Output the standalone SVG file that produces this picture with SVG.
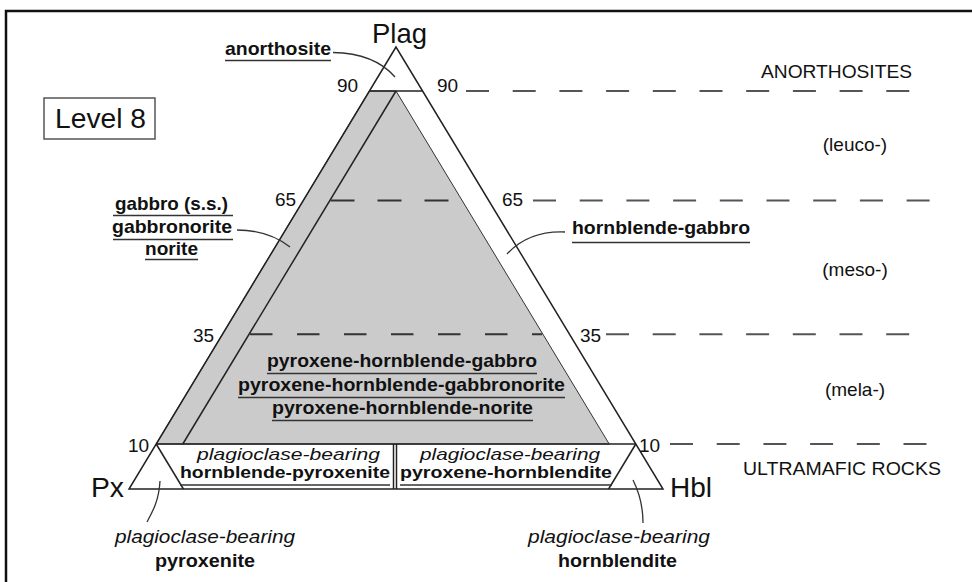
<svg xmlns="http://www.w3.org/2000/svg" width="972" height="582" viewBox="0 0 972 582">
<style>
  text { font-family: "Liberation Sans", Arial, sans-serif; fill: #111; }
  .big { font-size: 28px; }
  .num { font-size: 19px; }
  .lab { font-size: 19px; }
  .b { font-weight: bold; font-size: 19px; }
  .i { font-style: italic; font-size: 19px; }
  .cb { font-weight: bold; font-size: 16.5px; }
  .ci { font-style: italic; font-size: 17px; }
  .edge { fill: none; stroke: #222; stroke-width: 1.5; }
  .ul { stroke: #333; stroke-width: 1.5; fill: none; }
  .dash { stroke: #555; stroke-width: 2; stroke-dasharray: 23 23.7; fill: none; }
  .lead { stroke: #333; stroke-width: 1.3; fill: none; }
</style>
<rect x="0" y="0" width="972" height="582" fill="#fff"/>
<path d="M6,582 V11 H972" fill="none" stroke="#111" stroke-width="2.5"/>

<g id="level8">
  <rect x="44" y="98" width="111" height="41" fill="#fff" stroke="#555" stroke-width="1.5"/>
  <text class="big" x="55" y="128" textLength="91" lengthAdjust="spacingAndGlyphs">Level 8</text>
</g>

<g id="triangle">
  <polygon points="369.4,91 396,91 609.2,444 156.2,444" fill="#cbcbcb" stroke="#333" stroke-width="1"/>
  <polygon points="396,47 129,489 663,489" class="edge"/>
  <line x1="369.4" y1="91" x2="422.6" y2="91" class="edge"/>
  <line x1="156.2" y1="444" x2="635.8" y2="444" class="edge"/>
  <line x1="396" y1="91" x2="182.8" y2="444" class="edge"/>
  <line x1="156.2" y1="444" x2="183.4" y2="489" class="edge"/>
  <line x1="635.8" y1="444" x2="608.6" y2="489" class="edge"/>
  <line x1="393.5" y1="444" x2="393.5" y2="489" class="edge" stroke-width="1.2"/>
  <line x1="396.5" y1="444" x2="396.5" y2="489" class="edge" stroke-width="1.2"/>
</g>

<g id="connectors">
  <line x1="466" y1="91" x2="912" y2="91" class="dash"/>
  <line x1="330.5" y1="200.5" x2="462" y2="200.5" class="dash" style="stroke:#333;stroke-dasharray:24 23"/>
  <line x1="533" y1="200.5" x2="934" y2="200.5" class="dash"/>
  <line x1="250" y1="334.3" x2="542" y2="334.3" class="dash" style="stroke:#333;stroke-dasharray:22.5 24.5"/>
  <line x1="606" y1="334.3" x2="920" y2="334.3" class="dash"/>
  <line x1="670" y1="444" x2="934" y2="444" class="dash"/>
  <path d="M333,52.5 C362,53 382,62 395,77" class="lead"/>
  <path d="M237,230 C260,230 276,236 290,247" class="lead"/>
  <path d="M565,232 C540,231 520,240 507,254" class="lead"/>
  <path d="M160,481 C159,500 153,511 147,522" class="lead"/>
  <path d="M633,480 C640,494 643,508 643,523" class="lead"/>
</g>

<g id="apex-labels">
  <text class="big" x="372" y="43" textLength="55" lengthAdjust="spacingAndGlyphs">Plag</text>
  <text class="big" x="91" y="497" textLength="33" lengthAdjust="spacingAndGlyphs">Px</text>
  <text class="big" x="670" y="497" textLength="42" lengthAdjust="spacingAndGlyphs">Hbl</text>
</g>

<g id="scale-numbers">
  <text class="num" x="337" y="92">90</text>
  <text class="num" x="437" y="92">90</text>
  <text class="num" x="275" y="206">65</text>
  <text class="num" x="502" y="206">65</text>
  <text class="num" x="193" y="342">35</text>
  <text class="num" x="580" y="342">35</text>
  <text class="num" x="128" y="452">10</text>
  <text class="num" x="639" y="452">10</text>
</g>

<g id="right-labels">
  <text class="lab" x="761" y="78" textLength="151" lengthAdjust="spacingAndGlyphs">ANORTHOSITES</text>
  <text class="lab" x="855" y="151" text-anchor="middle">(leuco-)</text>
  <text class="lab" x="855" y="276" text-anchor="middle">(meso-)</text>
  <text class="lab" x="855" y="396" text-anchor="middle">(mela-)</text>
  <text class="lab" x="743" y="475" textLength="198" lengthAdjust="spacingAndGlyphs">ULTRAMAFIC ROCKS</text>
</g>

<g id="anorthosite">
  <text class="b" x="225" y="55" textLength="106" lengthAdjust="spacingAndGlyphs">anorthosite</text>
  <line x1="225" y1="60.5" x2="331" y2="60.5" class="ul"/>
</g>

<g id="gabbro">
  <text class="b" x="115" y="210" textLength="113" lengthAdjust="spacingAndGlyphs">gabbro (s.s.)</text>
  <line x1="113" y1="215.5" x2="233" y2="215.5" class="ul"/>
  <text class="b" x="112" y="233" textLength="120" lengthAdjust="spacingAndGlyphs">gabbronorite</text>
  <line x1="113" y1="239.5" x2="233" y2="239.5" class="ul"/>
  <text class="b" x="145" y="255" textLength="53" lengthAdjust="spacingAndGlyphs">norite</text>
  <line x1="145" y1="259.5" x2="198" y2="259.5" class="ul"/>
</g>

<g id="hornblende-gabbro">
  <text class="b" x="572" y="234" textLength="178" lengthAdjust="spacingAndGlyphs">hornblende-gabbro</text>
  <line x1="572" y1="242.5" x2="750" y2="242.5" class="ul"/>
</g>

<g id="pyroxene-hornblende-gabbro">
  <text class="b" x="267" y="367" textLength="270" lengthAdjust="spacingAndGlyphs">pyroxene-hornblende-gabbro</text>
  <line x1="267" y1="373.5" x2="537" y2="373.5" class="ul"/>
  <text class="b" x="238" y="391" textLength="327" lengthAdjust="spacingAndGlyphs">pyroxene-hornblende-gabbronorite</text>
  <line x1="238" y1="397.5" x2="565" y2="397.5" class="ul"/>
  <text class="b" x="272" y="414" textLength="261" lengthAdjust="spacingAndGlyphs">pyroxene-hornblende-norite</text>
  <line x1="272" y1="420.5" x2="533" y2="420.5" class="ul"/>
</g>

<g id="hornblende-pyroxenite">
  <text class="ci" x="197" y="460" textLength="183" lengthAdjust="spacingAndGlyphs">plagioclase-bearing</text>
  <text class="cb" x="180" y="478" textLength="210" lengthAdjust="spacingAndGlyphs">hornblende-pyroxenite</text>
  <line x1="180" y1="485" x2="390" y2="485" class="ul"/>
</g>

<g id="pyroxene-hornblendite">
  <text class="ci" x="420" y="460" textLength="180" lengthAdjust="spacingAndGlyphs">plagioclase-bearing</text>
  <text class="cb" x="400" y="478" textLength="212" lengthAdjust="spacingAndGlyphs">pyroxene-hornblendite</text>
  <line x1="400" y1="485" x2="612" y2="485" class="ul"/>
</g>

<g id="pyroxenite">
  <text class="i" x="115" y="543" textLength="180" lengthAdjust="spacingAndGlyphs">plagioclase-bearing</text>
  <text class="b" x="155" y="567" textLength="100" lengthAdjust="spacingAndGlyphs">pyroxenite</text>
</g>

<g id="hornblendite">
  <text class="i" x="528" y="543" textLength="182" lengthAdjust="spacingAndGlyphs">plagioclase-bearing</text>
  <text class="b" x="558" y="567" textLength="119" lengthAdjust="spacingAndGlyphs">hornblendite</text>
</g>
</svg>
